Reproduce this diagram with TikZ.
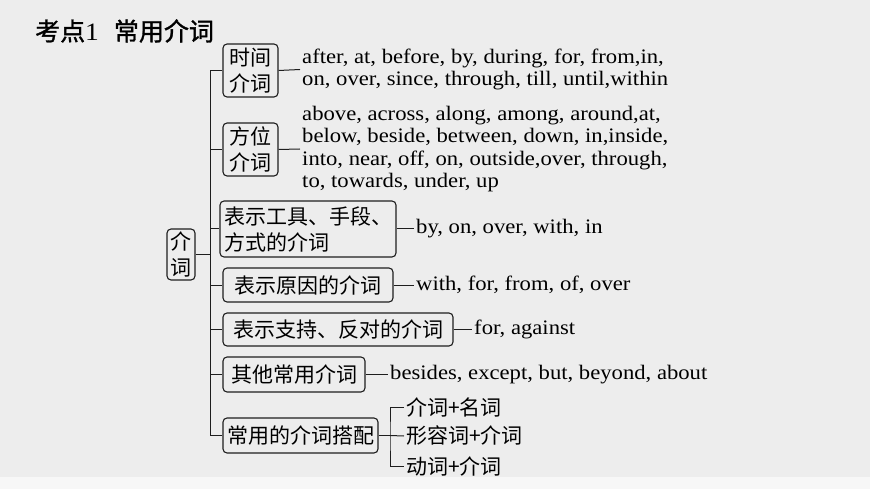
\documentclass[tikz,border=0pt]{standalone}
\usepackage{fontspec}
\setmainfont[FakeStretch=1.1]{Liberation Serif}
\newfontfamily\cjk{Noto Sans CJK SC}
\newfontfamily\cjkhead[FakeBold=1.2]{Noto Sans CJK SC}
\definecolor{paper}{HTML}{EDEDED}
\definecolor{strip}{HTML}{F7F7F7}
\definecolor{ink}{HTML}{1E1E1E}

\begin{document}
\begin{tikzpicture}[
  x=1pt, y=-1pt,
  kind/.style={
    rectangle,
    rounded corners=4pt,
    draw=ink,
    line width=1.1pt,
    inner sep=0pt,
    align=left,
    font=\cjk\fontsize{21}{26}\selectfont
  },
  words/.style={
    anchor=west,
    inner xsep=2pt, inner ysep=0pt,
    align=left,
    font=\fontsize{20.6}{22.6}\selectfont
  },
  pair/.style={
    anchor=west,
    inner xsep=2pt, inner ysep=0pt,
    font=\cjk\fontsize{21}{26}\selectfont
  },
  link/.style={draw=ink, line width=1pt}
]
% background
\fill[paper] (0,0) rectangle (870,489);
\fill[strip] (0,477) rectangle (870,489);
\useasboundingbox (0,0) rectangle (870,489);

% heading
\node (title) [anchor=west, inner sep=0pt, font=\fontsize{25}{28}\selectfont]
  at (35,31) {{\cjkhead 考点}1\hspace{0.6em}{\cjkhead 常用介词}};

% root and its seven kinds
\node (root) [kind, minimum width=28pt, minimum height=51pt, align=center]
  at (181,254.5) {介\\词};
\node (cat1) [kind, minimum width=55pt, minimum height=53pt, align=center]
  at (250.5,70.5) {时间\\介词};
\node (cat2) [kind, minimum width=55pt, minimum height=53pt, align=center]
  at (250.5,149.5) {方位\\介词};
\node (cat3) [kind, minimum width=170pt, minimum height=56pt, inner xsep=4pt]
  at (308,229) {表示工具、手段、\\方式的介词};
\node (cat4) [kind, minimum width=170pt, minimum height=34pt]
  at (308,285) {表示原因的介词};
\node (cat5) [kind, minimum width=230pt, minimum height=33pt]
  at (338,329.5) {表示支持、反对的介词};
\node (cat6) [kind, minimum width=142pt, minimum height=35pt]
  at (294,374.5) {其他常用介词};
\node (cat7) [kind, minimum width=155pt, minimum height=35pt]
  at (300.5,435.5) {常用的介词搭配};

% word lists
\node (list1) [words] at (300,69.5)
  {after, at, before, by, during, for, from,in,\\
   on, over, since, through, till, until,within};
\node (list2) [words] at (300,149)
  {above, across, along, among, around,at,\\
   below, beside, between, down, in,inside,\\
   into, near, off, on, outside,over, through,\\
   to, towards, under, up};
\node (list3) [words] at (414,229) {by, on, over, with, in};
\node (list4) [words] at (414,285) {with, for, from, of, over};
\node (list5) [words] at (472,329.5) {for, against};
\node (list6) [words] at (388,374.5) {besides, except, but, beyond, about};

% collocations
\node (pair1) [pair] at (404,407) {介词+名词};
\node (pair2) [pair] at (404,436) {形容词+介词};
\node (pair3) [pair] at (404,466) {动词+介词};

% trunk
\coordinate (trunk) at (210,70.5);
\coordinate (fork) at (390,435.5);
\draw[link] (root.east) -- (trunk |- root.east);
\draw[link] (cat1.west) -- (trunk) |- (cat7.west);
\foreach \i in {2,...,6}
  \draw[link] (trunk |- cat\i.west) -- (cat\i.west);

% leaves
\foreach \i in {1,...,6}
  \draw[link] (cat\i.east) -- (list\i.west);
\draw[link] (cat7.east) -- (fork);
\draw[link] (pair1.west) -| (fork) |- (pair3.west);
\draw[link] (fork) -- (pair2.west);
\end{tikzpicture}
\end{document}
